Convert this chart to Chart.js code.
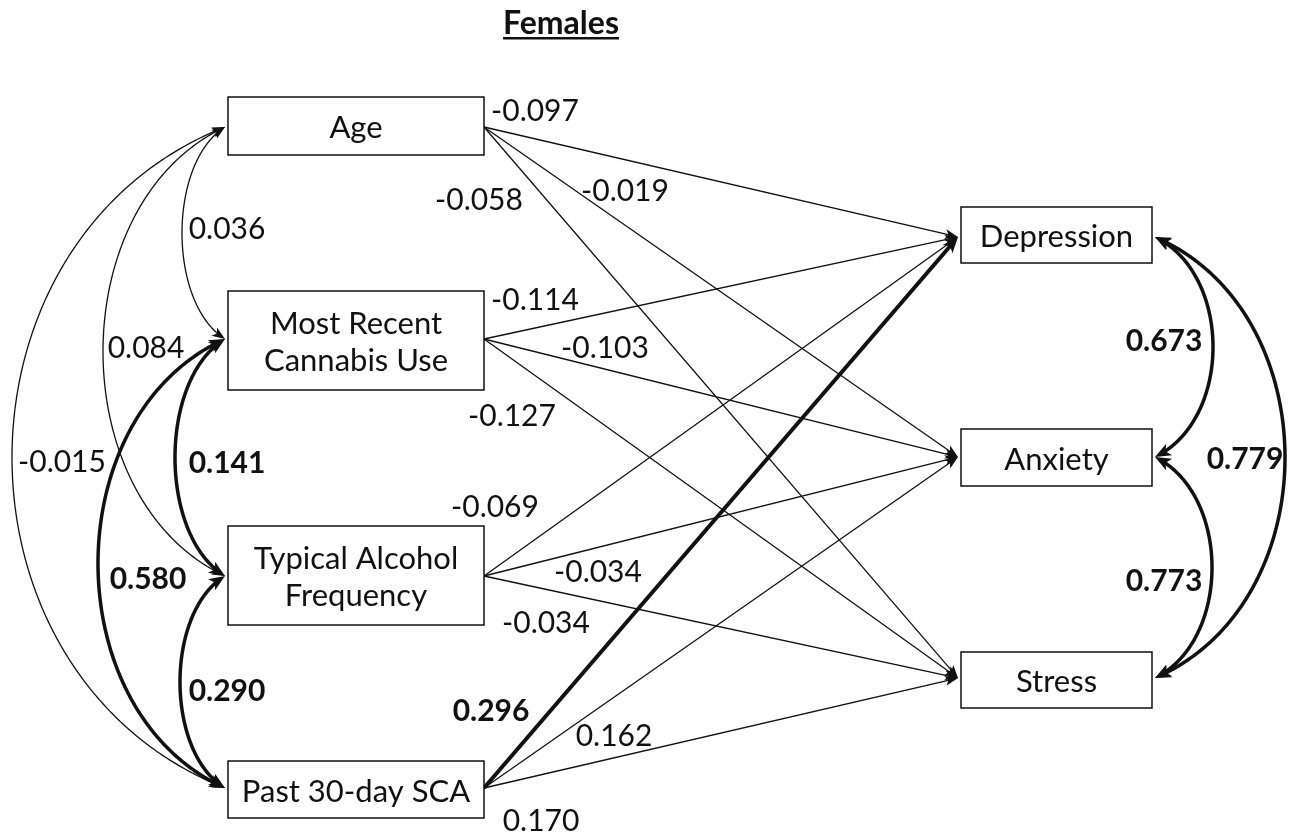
<!DOCTYPE html>
<html>
<head>
<meta charset="utf-8">
<script src="https://cdn.jsdelivr.net/npm/chart.js@4/dist/chart.umd.min.js"></script>
<style>
  body { margin: 0; background: #fff; }
  #wrap { width: 1292px; height: 833px; }
</style>
</head>
<body>
<div id="wrap"><canvas id="pathChart" width="1292" height="833"></canvas></div>
<script>
// ---- data ----
const title = 'Females';
const predictors = [['Age'], ['Most Recent', 'Cannabis Use'], ['Typical Alcohol', 'Frequency'], ['Past 30-day SCA']];
const outcomes = ['Depression', 'Anxiety', 'Stress'];

// standardised path coefficients, predictor -> [Depression, Anxiety, Stress]
const ageCoef = [-0.097, -0.019, -0.058];
const cannabisCoef = [-0.114, -0.103, -0.127];
const alcoholCoef = [-0.069, -0.034, -0.034];
const scaCoef = [0.296, 0.162, 0.170];
// significant paths (drawn bold)
const ageSig = [false, false, false];
const cannabisSig = [false, false, false];
const alcoholSig = [false, false, false];
const scaSig = [true, false, false];

// covariances between predictors: pairs of predictor indexes
const predCovPairs = [[0, 1], [0, 2], [0, 3], [1, 2], [1, 3], [2, 3]];
const predCovValues = [0.036, 0.084, -0.015, 0.141, 0.580, 0.290];
const predCovSig = [false, false, false, true, true, true];

// residual covariances between outcomes
const outCovPairs = [[0, 1], [1, 2], [0, 2]];
const outCovValues = [0.673, 0.773, 0.779];
const outCovSig = [true, true, true];

const pathCoef = [ageCoef, cannabisCoef, alcoholCoef, scaCoef];
const pathSig = [ageSig, cannabisSig, alcoholSig, scaSig];

// ---- layout (diagram units = pixels of the 1292x833 page) ----
const leftBox = { x0: 228, x1: 484 };
const predBoxY = [[97, 155], [291, 390], [526, 625], [761, 818]];
const predPortY = [127, 339, 576, 788];
const rightBox = { x0: 961, x1: 1152 };
const outBoxY = [[207, 263], [429, 486], [652, 708]];
const outPortY = [237, 457, 678];
const predCovBulge = [182, 103, 12, 175, 98, 180];
const outCovBulge = [1213, 1212, 1285];

const pathLabelAt = [
  [[535, 110], [625, 190], [479, 199]],
  [[535, 299], [605, 347], [512, 415]],
  [[495, 506], [598, 571], [546, 622]],
  [[491, 710], [614, 735], [541, 820]]
];
const predCovLabelAt = [[227, 228], [146, 347], [62, 461], [227, 462], [148, 578], [227, 690]];
const outCovLabelAt = [[1164, 340], [1164, 580], [1245, 458]];

const INK = '#111';
const FONT = 'Lato, "Open Sans", sans-serif';
const THIN = 1.3, THICK = 4;

function fmt(v) { return v.toFixed(3); }

// straight regression paths as line datasets
const arrowLen = { thin: 13, thick: 16 };
const datasets = [];
pathCoef.forEach((row, i) => {
  row.forEach((v, j) => {
    const sig = pathSig[i][j];
    const sx = leftBox.x1, sy = predPortY[i];
    const tx = rightBox.x0 - 3, ty = outPortY[j];
    const len = Math.hypot(tx - sx, ty - sy);
    const back = (sig ? arrowLen.thick : arrowLen.thin) * 0.6;
    datasets.push({
      label: predictors[i].join(' ') + ' -> ' + outcomes[j],
      data: [{ x: sx, y: sy }, { x: tx - (tx - sx) / len * back, y: ty - (ty - sy) / len * back }],
      tip: { x: tx, y: ty, fromX: sx, fromY: sy },
      sig: sig,
      showLine: true,
      borderColor: INK,
      borderWidth: sig ? THICK : THIN,
      pointRadius: 0,
      borderCapStyle: 'butt'
    });
  });
});

function arrowHead(ctx, tipX, tipY, dirX, dirY, L, W) {
  const d = Math.hypot(dirX, dirY);
  const ux = dirX / d, uy = dirY / d;
  const bx = tipX - ux * L, by = tipY - uy * L;
  ctx.beginPath();
  ctx.moveTo(tipX, tipY);
  ctx.lineTo(bx - uy * W, by + ux * W);
  ctx.lineTo(tipX - ux * L * 0.75, tipY - uy * L * 0.75);
  ctx.lineTo(bx + uy * W, by - ux * W);
  ctx.closePath();
  ctx.fill();
}

function bez(p0, c1, c2, p3, t) {
  const m = 1 - t;
  return {
    x: m * m * m * p0.x + 3 * m * m * t * c1.x + 3 * m * t * t * c2.x + t * t * t * p3.x,
    y: m * m * m * p0.y + 3 * m * m * t * c1.y + 3 * m * t * t * c2.y + t * t * t * p3.y
  };
}

// double headed curved arrow between two ports on the same side
function covCurve(ctx, P, edgeX, yA, yB, bulgeX, sig) {
  const span = yB - yA;
  const h = (bulgeX - edgeX) / 0.75;
  const v = span * 0.17;
  const p0 = P(edgeX, yA), c1 = P(edgeX + h, yA + v), c2 = P(edgeX + h, yB - v), p3 = P(edgeX, yB);
  const L = sig ? arrowLen.thick : arrowLen.thin;
  const W = sig ? 6.5 : 5;
  const pts = [];
  for (let k = 0; k <= 300; k++) pts.push(bez(p0, c1, c2, p3, k / 300));
  const keep = pts.filter(p => Math.hypot(p.x - p0.x, p.y - p0.y) > L * 0.6 && Math.hypot(p.x - p3.x, p.y - p3.y) > L * 0.6);
  ctx.lineWidth = sig ? 3.5 : THIN;
  ctx.beginPath();
  keep.forEach((p, k) => k ? ctx.lineTo(p.x, p.y) : ctx.moveTo(p.x, p.y));
  ctx.stroke();
  const a = pts[6], b = pts[294];
  arrowHead(ctx, p0.x, p0.y, p0.x - a.x, p0.y - a.y, L, W);
  arrowHead(ctx, p3.x, p3.y, p3.x - b.x, p3.y - b.y, L, W);
}

function text(ctx, s, x, y, bold, size) {
  ctx.font = (bold ? 'bold ' : '') + (size || 30) + 'px ' + FONT;
  ctx.textAlign = 'center';
  ctx.textBaseline = 'alphabetic';
  ctx.fillText(s, x, y + 11);
}

const diagramPlugin = {
  id: 'diagram',
  afterDatasetsDraw(chart) {
    const ctx = chart.ctx;
    const xs = chart.scales.x, ys = chart.scales.y;
    const P = (x, y) => ({ x: xs.getPixelForValue(x), y: ys.getPixelForValue(y) });
    ctx.save();
    ctx.fillStyle = INK;
    ctx.strokeStyle = INK;

    // arrowheads of straight paths
    chart.data.datasets.forEach(ds => {
      const t = P(ds.tip.x, ds.tip.y), f = P(ds.tip.fromX, ds.tip.fromY);
      arrowHead(ctx, t.x, t.y, t.x - f.x, t.y - f.y, ds.sig ? arrowLen.thick : arrowLen.thin, ds.sig ? 6.5 : 5);
    });

    // covariance curves
    predCovPairs.forEach((pr, k) => {
      covCurve(ctx, P, leftBox.x0 - 3, predPortY[pr[0]], predPortY[pr[1]], predCovBulge[k], predCovSig[k]);
    });
    outCovPairs.forEach((pr, k) => {
      covCurve(ctx, P, rightBox.x1 + 3, outPortY[pr[0]], outPortY[pr[1]], outCovBulge[k], outCovSig[k]);
    });

    // boxes
    ctx.lineWidth = 1.5;
    const drawBox = (x0, x1, y0, y1, lines) => {
      const a = P(x0, y0), b = P(x1, y1);
      ctx.fillStyle = '#fff';
      ctx.fillRect(a.x, a.y, b.x - a.x, b.y - a.y);
      ctx.strokeRect(a.x, a.y, b.x - a.x, b.y - a.y);
      ctx.fillStyle = INK;
      const cx = (a.x + b.x) / 2, cy = (a.y + b.y) / 2 + 1;
      lines.forEach((s, k) => text(ctx, s, cx, cy + (k - (lines.length - 1) / 2) * 37, false, 31));
    };
    predictors.forEach((lines, i) => drawBox(leftBox.x0, leftBox.x1, predBoxY[i][0], predBoxY[i][1], lines));
    outcomes.forEach((name, j) => drawBox(rightBox.x0, rightBox.x1, outBoxY[j][0], outBoxY[j][1], [name]));

    // coefficient labels
    pathCoef.forEach((row, i) => row.forEach((v, j) => {
      const p = P(pathLabelAt[i][j][0], pathLabelAt[i][j][1]);
      text(ctx, fmt(v), p.x, p.y, pathSig[i][j]);
    }));
    predCovValues.forEach((v, k) => {
      const p = P(predCovLabelAt[k][0], predCovLabelAt[k][1]);
      text(ctx, fmt(v), p.x, p.y, predCovSig[k]);
    });
    outCovValues.forEach((v, k) => {
      const p = P(outCovLabelAt[k][0], outCovLabelAt[k][1]);
      text(ctx, fmt(v), p.x, p.y, outCovSig[k]);
    });

    // title, underlined
    const tp = P(561, 23);
    text(ctx, title, tp.x, tp.y, true, 32);
    const tw = ctx.measureText(title).width;
    ctx.fillRect(tp.x - tw / 2, tp.y + 14, tw, 2.5);
    ctx.restore();
  }
};

new Chart(document.getElementById('pathChart'), {
  type: 'scatter',
  data: { datasets: datasets },
  options: {
    responsive: false,
    animation: false,
    layout: { padding: 0 },
    plugins: { legend: { display: false }, tooltip: { enabled: false } },
    scales: {
      x: { type: 'linear', min: 0, max: 1292, display: false },
      y: { type: 'linear', min: 0, max: 833, reverse: true, display: false }
    }
  },
  plugins: [diagramPlugin]
});
</script>
</body>
</html>
